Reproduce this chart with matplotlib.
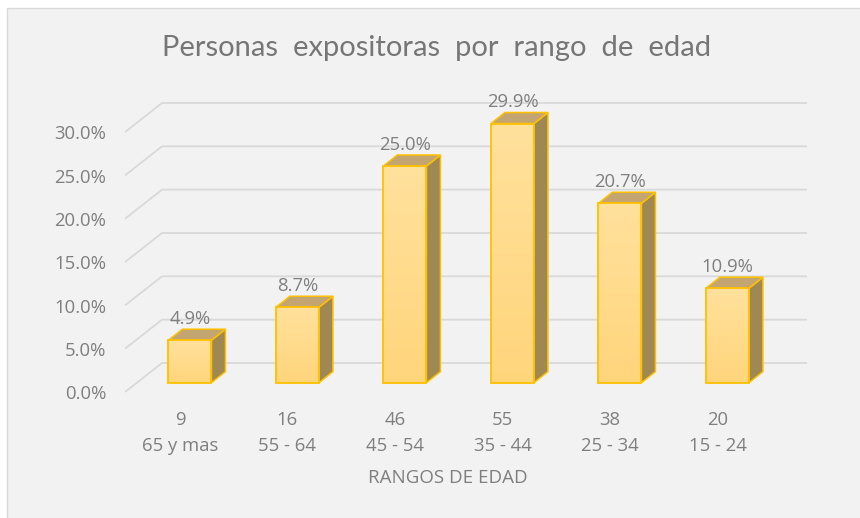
import numpy as np
import matplotlib.pyplot as plt
from matplotlib.patches import Polygon, Rectangle
from matplotlib.colors import LinearSegmentedColormap

# ---- data ----
age_ranges = ["65 y mas", "55 - 64", "45 - 54", "35 - 44", "25 - 34", "15 - 24"]
counts = [9, 16, 46, 55, 38, 20]
shares = [4.9, 8.7, 25.0, 29.9, 20.7, 10.9]
yticks = [0, 5, 10, 15, 20, 25, 30]

# ---- style ----
TEXT = "#7f7f7f"
GRID = "#d9d9d9"
EDGE = "#ffc000"
TOP = "#c3a572"
SIDE = "#a08853"
BG = "#f2f2f2"
plt.rcParams["font.family"] = ["Open Sans", "DejaVu Sans"]
TITLE_FONT = ["Lato", "DejaVu Sans"]
FS = 13.3

# 3d-ish geometry (data units: x = category slot, y = percent)
GRID_DX, GRID_DY = -0.344, -3.35      # front tip of each gridline
BACK_X0, BACK_X1 = -0.26, 5.74        # back wall span
HALF_W = 0.2
BASE = -2.27                          # bar front bottom
DEPTH_DX, DEPTH_DY = 0.13, 1.27       # bar depth

W, H = 860, 518
fig = plt.figure(figsize=(W / 100, H / 100), dpi=100)
fig.patch.set_facecolor("white")
fig.patches.append(Rectangle((7 / W, -0.02), 1.0, 1.02 - 8 / H, transform=fig.transFigure,
                             facecolor=BG, edgecolor=GRID, lw=1.0, zorder=-1))

ax = fig.add_axes([100 / W, (H - 400) / H, 740 / W, 340 / H])
ax.axis("off")

# gridlines + y tick labels
for t in yticks:
    ax.plot([BACK_X0 + GRID_DX, BACK_X0, BACK_X1], [t + GRID_DY, t, t],
            color=GRID, lw=1.3, zorder=1, solid_capstyle="butt")
    ax.text(BACK_X0 + GRID_DX - 0.177, t - 4.19, f"{t:.1f}%", ha="right", va="baseline",
            fontsize=FS, color=TEXT)

grad_cmap = LinearSegmentedColormap.from_list("face", ["#ffd57c", "#ffe19c"])
grad = np.linspace(0, 1, 64).reshape(-1, 1)

for i, v in enumerate(shares):
    x0, x1 = i - HALF_W, i + HALF_W
    y0, y1 = BASE, BASE + v
    side = Polygon([(x1, y0), (x1 + DEPTH_DX, y0 + DEPTH_DY), (x1 + DEPTH_DX, y1 + DEPTH_DY), (x1, y1)],
                   closed=True, facecolor=SIDE, edgecolor=EDGE, lw=1.1, zorder=3)
    top = Polygon([(x0, y1), (x1, y1), (x1 + DEPTH_DX, y1 + DEPTH_DY), (x0 + DEPTH_DX, y1 + DEPTH_DY)],
                  closed=True, facecolor=TOP, edgecolor=EDGE, lw=1.1, zorder=3)
    ax.add_patch(side)
    ax.add_patch(top)
    ax.imshow(grad, extent=(x0, x1, y0, y1), origin="lower", aspect="auto", cmap=grad_cmap,
              zorder=4, interpolation="bilinear")
    ax.add_patch(Rectangle((x0, y0), x1 - x0, v, facecolor="none", edgecolor=EDGE, lw=1.3, zorder=5))
    ax.text(i, y1 + 1.9, f"{v:.1f}%", ha="center", va="baseline", fontsize=FS, color=TEXT, zorder=6)

    # category labels: count over age range
    ax.text(i - 0.093, -7.15, str(counts[i]), ha="center", va="baseline", fontsize=FS, color=TEXT)
    ax.text(i - 0.093, -10.15, age_ranges[i], ha="center", va="baseline", fontsize=FS, color=TEXT)

ax.text(2.4, -13.85, "RANGOS DE EDAD", ha="center", va="baseline", fontsize=13.5, color=TEXT)

ax.set_xlim(-0.837, 6.047)
ax.set_ylim(-4.27, 34.96)

fig.text(437 / W, 1 - 48 / H, "Personas  expositoras  por  rango  de  edad", ha="center", va="center",
         fontsize=21, color="#767676", family=TITLE_FONT)

fig.savefig("out.png", dpi=100, facecolor=fig.get_facecolor())
